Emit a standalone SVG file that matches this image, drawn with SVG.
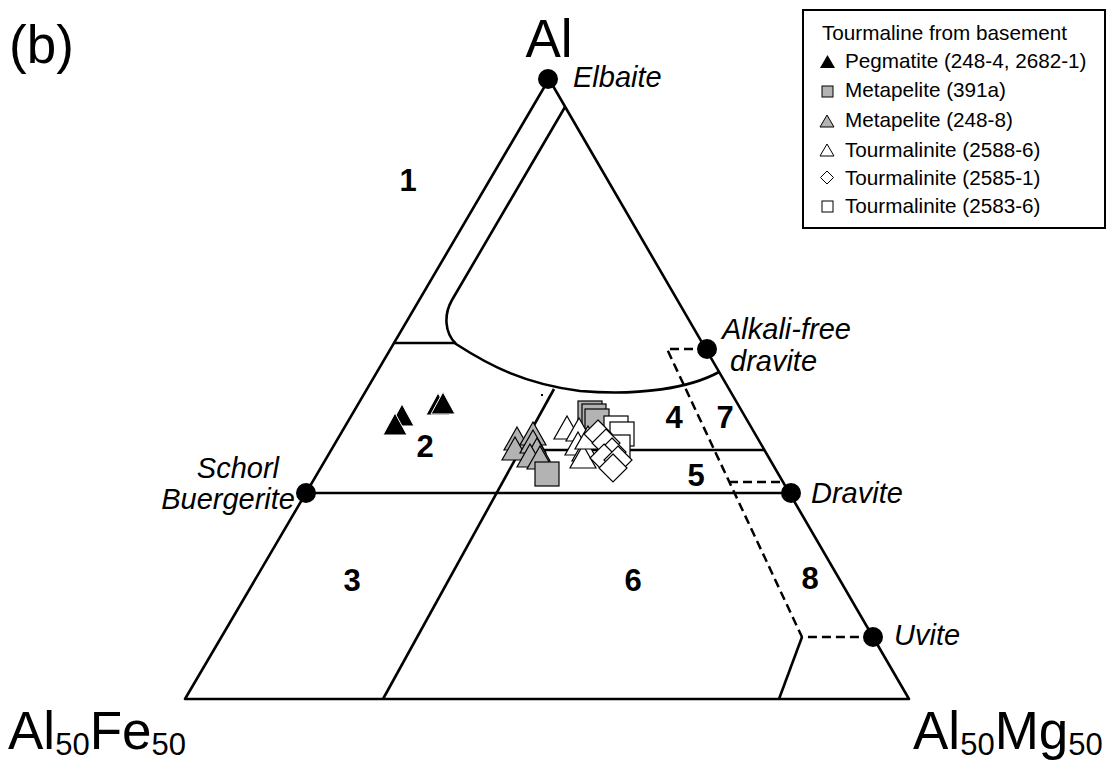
<svg xmlns="http://www.w3.org/2000/svg" width="1113" height="764" viewBox="0 0 1113 764">
<style>
.ln{fill:none;stroke:#000;stroke-width:2.6;stroke-linejoin:round}
.ds{fill:none;stroke:#000;stroke-width:2.5;stroke-dasharray:9,5}
.big{font-family:"Liberation Sans",Arial,sans-serif;font-size:53px;fill:#000}
.sub{font-size:31px}
.lab{font-family:"Liberation Sans",Arial,sans-serif;font-style:italic;font-size:29px;fill:#000}
.num{font-family:"Liberation Sans",Arial,sans-serif;font-weight:bold;font-size:31px;fill:#000;text-anchor:middle}
.leg{font-family:"Liberation Sans",Arial,sans-serif;font-size:20.7px;fill:#000}
.sym{stroke:#000;stroke-width:1.2}
.blk{fill:#000;stroke:#fff;stroke-width:1}
.gry{fill:#b3b3b3}
.wht{fill:#fff}
</style>
<defs>
<path id="tri" d="M0,-14 L13,9 L-13,9 Z"/>
<path id="trs" d="M0,-13 L12,9 L-12,9 Z"/>
<rect id="sq" x="-12" y="-12" width="24" height="24"/>
<path id="dia" d="M0,-14 L14,0 L0,14 L-14,0 Z"/>
</defs>
<rect width="1113" height="764" fill="#fff"/>

<g id="frame">
<polygon class="ln" points="549,79 185,699 909,699" stroke-width="3"/>
</g>

<g id="connectors">
<path class="ln" d="M565,107 L452,300 C444,314 444,332 456,344 C490,366 525,384 580,391 C640,396 690,388 719,372"/>
<path class="ln" d="M394,343 H456"/>
<path class="ln" d="M383,699 L554,389"/>
<path class="ln" d="M306,493 H791"/>
<path class="ln" d="M521,450 H764"/>
<path class="ln" d="M802,637 L779,699"/>
<path class="ds" d="M707,349 H667 L802,637 H873"/>
<path class="ds" d="M729,482 H783"/>
</g>

<g id="endmembers">
<g id="elbaite"><circle cx="548" cy="79" r="10"/><text class="lab" x="573" y="87">Elbaite</text></g>
<g id="alkali-free-dravite"><circle cx="707" cy="349" r="10"/><text class="lab" x="722" y="339">Alkali-free</text><text class="lab" x="730" y="371">dravite</text></g>
<g id="schorl"><circle cx="306" cy="493" r="10"/><text class="lab" x="279" y="478" text-anchor="end">Schorl</text><text class="lab" x="295" y="509" text-anchor="end">Buergerite</text></g>
<g id="dravite"><circle cx="791" cy="493" r="10"/><text class="lab" x="811" y="503">Dravite</text></g>
<g id="uvite"><circle cx="873" cy="637" r="10"/><text class="lab" x="894" y="645">Uvite</text></g>
</g>

<g id="fields">
<text class="num" x="408" y="191">1</text>
<text class="num" x="425" y="457">2</text>
<text class="num" x="352" y="591">3</text>
<text class="num" x="674" y="428">4</text>
<text class="num" x="696" y="486">5</text>
<text class="num" x="633" y="591">6</text>
<text class="num" x="725" y="428">7</text>
<text class="num" x="810" y="589">8</text>
</g>

<g id="axis-labels">
<text class="big" x="9" y="63" font-size="61">(b)</text>
<text class="big" x="549" y="57" text-anchor="middle">Al</text>
<text class="big" x="8" y="749">Al<tspan class="sub" dy="6">50</tspan><tspan dy="-6">Fe</tspan><tspan class="sub" dy="6">50</tspan></text>
<text class="big" x="913" y="749">Al<tspan class="sub" dy="6">50</tspan><tspan dy="-6">Mg</tspan><tspan class="sub" dy="6">50</tspan></text>
</g>

<g id="data">
<use href="#trs" class="blk" x="402" y="417"/>
<use href="#trs" class="blk" x="395" y="426"/>
<use href="#trs" class="blk" x="438" y="406"/>
<use href="#trs" class="blk" x="443" y="405"/>
<rect x="541" y="394" width="2" height="2"/>
<use href="#sq" class="sym gry" x="590" y="413"/>
<use href="#sq" class="sym gry" x="594" y="416"/>
<use href="#sq" class="sym gry" x="597" y="421"/>
<use href="#sq" class="sym wht" x="616" y="428"/>
<use href="#sq" class="sym wht" x="622" y="434"/>
<use href="#sq" class="sym wht" x="618" y="447"/>
<use href="#tri" class="sym gry" x="517" y="441"/>
<use href="#tri" class="sym gry" x="515" y="451"/>
<use href="#tri" class="sym gry" x="533" y="436"/>
<use href="#tri" class="sym gry" x="533" y="444"/>
<use href="#tri" class="sym gry" x="537" y="452"/>
<use href="#tri" class="sym gry" x="530" y="458"/>
<use href="#tri" class="sym gry" x="540" y="460"/>
<use href="#sq" class="sym gry" x="547" y="474"/>
<use href="#tri" class="sym wht" x="567" y="430"/>
<use href="#tri" class="sym wht" x="579" y="432"/>
<use href="#tri" class="sym wht" x="578" y="446"/>
<use href="#tri" class="sym wht" x="585" y="452"/>
<use href="#tri" class="sym wht" x="583" y="459"/>
<use href="#tri" class="sym wht" x="588" y="440"/>
<use href="#dia" class="sym wht" x="598" y="434"/>
<use href="#dia" class="sym wht" x="606" y="443"/>
<use href="#dia" class="sym wht" x="612" y="452"/>
<use href="#dia" class="sym wht" x="604" y="458"/>
<use href="#dia" class="sym wht" x="618" y="460"/>
<use href="#dia" class="sym wht" x="613" y="468"/>
</g>

<g id="legend">
<rect x="803" y="10" width="302" height="218" fill="#fff" stroke="#000" stroke-width="2"/>
<text class="leg" x="822" y="40" font-size="22.5">Tourmaline from basement</text>
<path d="M827.5,55 L835,68 L820,68 Z" fill="#000"/>
<text class="leg" x="845" y="68">Pegmatite (248-4, 2682-1)</text>
<rect x="822" y="86" width="11" height="11" class="gry" stroke="#000" stroke-width="1"/>
<text class="leg" x="845" y="97">Metapelite (391a)</text>
<path d="M827,115 L834,127 L820,127 Z" class="gry" stroke="#000" stroke-width="1"/>
<text class="leg" x="845" y="127">Metapelite (248-8)</text>
<path d="M827,144 L834,156 L820,156 Z" fill="#fff" stroke="#000" stroke-width="1"/>
<text class="leg" x="845" y="157">Tourmalinite (2588-6)</text>
<path d="M827,171 L833.5,177.5 L827,184 L820.5,177.5 Z" fill="#fff" stroke="#000" stroke-width="1"/>
<text class="leg" x="845" y="185">Tourmalinite (2585-1)</text>
<rect x="822" y="201" width="11" height="11" fill="#fff" stroke="#000" stroke-width="1"/>
<text class="leg" x="845" y="213">Tourmalinite (2583-6)</text>
</g>
</svg>
